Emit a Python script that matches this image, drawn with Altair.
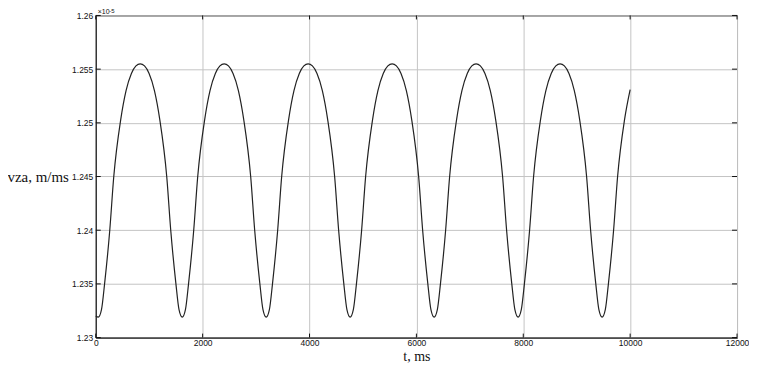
import altair as alt
import pandas as pd

# time (ms) and velocity (x 1e-5 m/ms)
t_ms = [0, 47, 107, 167, 262, 337, 467, 567, 667, 752, 832, 912, 998, 1098, 1198, 1328, 1403, 1498, 1558,
        1618, 1678, 1738, 1833, 1908, 2038, 2138, 2238, 2323, 2403, 2483, 2569, 2669, 2769, 2899, 2974, 3069, 3129,
        3189, 3249, 3309, 3404, 3479, 3609, 3709, 3809, 3894, 3974, 4054, 4140, 4240, 4340, 4470, 4545, 4640, 4700,
        4760, 4820, 4880, 4975, 5050, 5180, 5280, 5380, 5466, 5546, 5626, 5712, 5812, 5912, 6042, 6117, 6212, 6272,
        6332, 6392, 6452, 6547, 6622, 6752, 6852, 6952, 7037, 7117, 7197, 7283, 7383, 7483, 7613, 7688, 7783, 7843,
        7903, 7963, 8023, 8118, 8193, 8323, 8423, 8523, 8609, 8689, 8769, 8855, 8955, 9055, 9185, 9260, 9355, 9415,
        9475, 9535, 9595, 9690, 9765, 9895, 10000]
v_za = [1.2320, 1.2319, 1.2326, 1.2351, 1.2400, 1.2450, 1.2503, 1.2530, 1.2546, 1.2553, 1.2555, 1.2553, 1.2546, 1.2530, 1.2503, 1.2450, 1.2400, 1.2351, 1.2326,
        1.2319, 1.2326, 1.2351, 1.2400, 1.2450, 1.2503, 1.2530, 1.2546, 1.2553, 1.2555, 1.2553, 1.2546, 1.2530, 1.2503, 1.2450, 1.2400, 1.2351, 1.2326,
        1.2319, 1.2326, 1.2351, 1.2400, 1.2450, 1.2503, 1.2530, 1.2546, 1.2553, 1.2555, 1.2553, 1.2546, 1.2530, 1.2503, 1.2450, 1.2400, 1.2351, 1.2326,
        1.2319, 1.2326, 1.2351, 1.2400, 1.2450, 1.2503, 1.2530, 1.2546, 1.2553, 1.2555, 1.2553, 1.2546, 1.2530, 1.2503, 1.2450, 1.2400, 1.2351, 1.2326,
        1.2319, 1.2326, 1.2351, 1.2400, 1.2450, 1.2503, 1.2530, 1.2546, 1.2553, 1.2555, 1.2553, 1.2546, 1.2530, 1.2503, 1.2450, 1.2400, 1.2351, 1.2326,
        1.2319, 1.2326, 1.2351, 1.2400, 1.2450, 1.2503, 1.2530, 1.2546, 1.2553, 1.2555, 1.2553, 1.2546, 1.2530, 1.2503, 1.2450, 1.2400, 1.2351, 1.2326,
        1.2319, 1.2326, 1.2351, 1.2400, 1.2450, 1.2503, 1.2531]

x_ticks = [0, 2000, 4000, 6000, 8000, 10000, 12000]
y_ticks = [1.23, 1.235, 1.24, 1.245, 1.25, 1.255, 1.26]

W, H = 643, 323

df = pd.DataFrame({"t": t_ms, "v": v_za})
xt = pd.DataFrame({"xt": x_ticks})
yt = pd.DataFrame({"yt": y_ticks})

xscale = alt.Scale(domain=[0, 12000], nice=False, zero=False)
yscale = alt.Scale(domain=[1.23, 1.26], nice=False, zero=False)

x_axis = alt.Axis(values=x_ticks, format="d", title="t, ms", grid=True, ticks=False,
                  labelFont="Liberation Sans", labelFontSize=8.5, labelColor="#111", labelPadding=1,
                  titleFont="Liberation Serif", titleFontSize=14, titleFontWeight="normal",
                  titleColor="#111", titleY=23, titleBaseline="alphabetic",
                  domainColor="#111", gridColor="#c4c4c4", labelFlush=False)
y_axis = alt.Axis(values=y_ticks, format=".4~f", title="vza, m/ms", grid=True, ticks=False,
                  labelFont="Liberation Sans", labelFontSize=8.5, labelColor="#111", labelPadding=3,
                  titleFont="Liberation Serif", titleFontSize=15, titleFontWeight="normal",
                  titleColor="#111", titleAngle=0, titleAlign="left", titleBaseline="middle",
                  titleX=-89, titleY=161, domainColor="#111", gridColor="#c4c4c4", labelFlush=False)

line = alt.Chart(df).mark_line(color="#222", strokeWidth=1.2, interpolate="monotone").encode(
    x=alt.X("t:Q", scale=xscale, axis=x_axis),
    y=alt.Y("v:Q", scale=yscale, axis=y_axis),
)

xticks_b = alt.Chart(xt).mark_rule(color="#111").encode(
    x=alt.X("xt:Q", scale=xscale), y=alt.value(H), y2=alt.value(H - 4))
xticks_t = alt.Chart(xt).mark_rule(color="#111").encode(
    x=alt.X("xt:Q", scale=xscale), y=alt.value(0), y2=alt.value(4))
yticks_l = alt.Chart(yt).mark_rule(color="#111").encode(
    y=alt.Y("yt:Q", scale=yscale), x=alt.value(0), x2=alt.value(5))
yticks_r = alt.Chart(yt).mark_rule(color="#111").encode(
    y=alt.Y("yt:Q", scale=yscale), x=alt.value(W - 5), x2=alt.value(W))

one = pd.DataFrame({"a": [0]})
mult = alt.Chart(one).mark_text(align="left", baseline="alphabetic", font="Liberation Sans",
                                fontSize=7, color="#111").encode(
    x=alt.value(2), y=alt.value(-1), text=alt.value("×10"))
expo = alt.Chart(one).mark_text(align="left", baseline="alphabetic", font="Liberation Sans",
                                fontSize=6, color="#111").encode(
    x=alt.value(13.5), y=alt.value(-2.5), text=alt.value("-5"))

chart = alt.layer(line, xticks_b, xticks_t, yticks_l, yticks_r, mult, expo).properties(
    width=W, height=H,
    autosize=alt.AutoSizeParams(type="none"),
    padding={"left": 88, "top": 7, "right": 12, "bottom": 25},
    background="white",
).configure_view(stroke="#111", strokeWidth=1)

chart.save("out.html", embed_options={"renderer": "svg", "actions": False})
